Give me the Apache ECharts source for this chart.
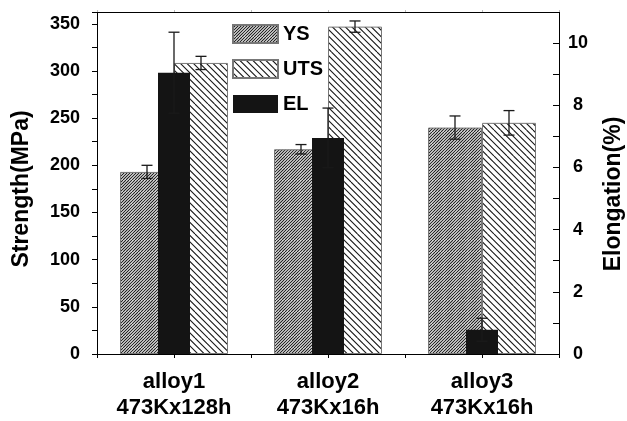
<!DOCTYPE html>
<html>
<head>
<meta charset="utf-8">
<script src="https://cdn.jsdelivr.net/npm/echarts@6/dist/echarts.min.js"></script>
<style>
html,body{margin:0;padding:0;background:#fff;}
#chart{width:627px;height:421px;}
</style>
</head>
<body>
<div id="chart"></div>
<script>
// ---- data ----
const alloys = ['alloy1', 'alloy2', 'alloy3'];
const treatments = ['473Kx128h', '473Kx16h', '473Kx16h'];
const ysValues = [193, 217, 240];
const ysErrors = [7, 5, 12.3];
const utsValues = [308.5, 347, 245];
const utsErrors = [7, 6, 13];
const elValues = [9.05, 6.95, 0.78];
const elErrors = [1.3, 0.96, 0.37];
const halfBands = ['', '', '', '', '', ''];

const FONT = "'Liberation Sans', Arial, Helvetica, sans-serif";
const BAR_W = 54;
const EL_W = 32;

function hatch(period, dir, lineColor, lw) {
  const s = period * 4;
  const c = document.createElement('canvas');
  c.width = s; c.height = s;
  const g = c.getContext('2d');
  g.fillStyle = '#fff';
  g.fillRect(0, 0, s, s);
  g.strokeStyle = lineColor;
  g.lineWidth = lw;
  g.beginPath();
  for (let k = -s; k <= 2 * s; k += period) {
    if (dir === '/') { g.moveTo(k, s); g.lineTo(k + s, 0); }
    else { g.moveTo(k, 0); g.lineTo(k + s, s); }
  }
  g.stroke();
  return { image: c, repeat: 'repeat' };
}
const ysPattern = hatch(3, '/', '#222', 1.2);
const utsPattern = hatch(6.5, '\\', '#1a1a1a', 1.1);

function errSeries(name, values, errors, xIdx, yIdx, offset, capHalf) {
  return {
    type: 'custom',
    name: name + '_err',
    xAxisIndex: xIdx,
    yAxisIndex: yIdx,
    z: 10,
    silent: true,
    legendHoverLink: false,
    encode: { x: 0, y: 1 },
    data: values.map((v, i) => [i, v, errors[i]]),
    renderItem: function (params, api) {
      const i = api.value(0), v = api.value(1), e = api.value(2);
      const hi = api.coord([i, v + e]);
      const lo = api.coord([i, v - e]);
      const x = hi[0] + offset;
      const st = { stroke: '#1a1a1a', lineWidth: 1.3 };
      return {
        type: 'group',
        children: [
          { type: 'line', shape: { x1: x, y1: hi[1], x2: x, y2: lo[1] }, style: st },
          { type: 'line', shape: { x1: x - capHalf, y1: hi[1], x2: x + capHalf, y2: hi[1] }, style: st },
          { type: 'line', shape: { x1: x - capHalf, y1: lo[1], x2: x + capHalf, y2: lo[1] }, style: st }
        ]
      };
    }
  };
}

const chart = echarts.init(document.getElementById('chart'), null, { renderer: 'canvas' });
const option = {
  animation: false,
  backgroundColor: '#fff',
  grid: { left: 97, right: 68, top: 12, bottom: 66 },
  legend: {
    orient: 'vertical',
    left: 232,
    top: 24,
    padding: 0,
    icon: 'rect',
    itemWidth: 45,
    itemHeight: 18,
    itemGap: 15,
    textStyle: { fontFamily: FONT, fontWeight: 'bold', fontSize: 20, color: '#000' },
    data: ['YS', 'UTS', 'EL'],
    selectedMode: false
  },
  xAxis: [
    {
      type: 'category',
      data: alloys,
      position: 'bottom',
      axisLine: { show: true, lineStyle: { color: '#000', width: 1 } },
      axisTick: { show: false },
      axisLabel: {
        interval: 0,
        margin: 15,
        fontFamily: FONT, fontWeight: 'bold', fontSize: 22, color: '#000', lineHeight: 26,
        formatter: (v, i) => v + '\n' + treatments[i]
      },
      splitLine: { show: false }
    },
    { type: 'category', data: alloys, show: false },
    {
      type: 'category', data: halfBands, position: 'bottom',
      axisLine: { show: false },
      axisTick: { show: true, length: 4, lineStyle: { color: '#000' } },
      axisLabel: { show: false }, splitLine: { show: false }
    },
    {
      type: 'category', data: halfBands, position: 'top',
      axisLine: { show: true, lineStyle: { color: '#000', width: 1 } },
      axisTick: { show: true, length: 2, lineStyle: { color: '#bbb' } },
      axisLabel: { show: false }, splitLine: { show: false }
    }
  ],
  yAxis: [
    {
      type: 'value', min: 0, max: 362.5, interval: 25, position: 'left',
      axisLine: { show: true, lineStyle: { color: '#000', width: 1 } },
      axisTick: { show: true, length: 5, lineStyle: { color: '#000' } },
      axisLabel: {
        margin: 17, fontFamily: FONT, fontWeight: 'bold', fontSize: 18, color: '#000',
        formatter: v => (v % 50 === 0 ? String(v) : '')
      },
      splitLine: { show: false }
    },
    {
      type: 'value', min: 0, max: 11, interval: 1, position: 'right',
      axisLine: { show: true, lineStyle: { color: '#000', width: 1 } },
      axisTick: { show: true, inside: true, length: 6, lineStyle: { color: '#000' } },
      axisLabel: {
        margin: 19, align: 'center', fontFamily: FONT, fontWeight: 'bold', fontSize: 18, color: '#000',
        formatter: v => (v % 2 === 0 ? String(v) : '')
      },
      splitLine: { show: false }
    }
  ],
  graphic: [
    {
      type: 'text', x: 22, y: 189, rotation: Math.PI / 2,
      style: { text: 'Strength(MPa)', font: 'bold 23px ' + FONT, fill: '#000', textAlign: 'center', textVerticalAlign: 'middle' }
    },
    {
      type: 'text', x: 614, y: 194, rotation: Math.PI / 2,
      style: { text: 'Elongation(%)', font: 'bold 23px ' + FONT, fill: '#000', textAlign: 'center', textVerticalAlign: 'middle' }
    }
  ],
  series: [
    {
      type: 'bar', name: 'YS', xAxisIndex: 0, yAxisIndex: 0,
      barWidth: BAR_W, barGap: '0%', z: 2,
      itemStyle: { color: ysPattern, borderColor: '#777', borderWidth: 1 },
      data: ysValues
    },
    {
      type: 'bar', name: 'UTS', xAxisIndex: 0, yAxisIndex: 0,
      barWidth: BAR_W, barGap: '0%', z: 2,
      itemStyle: { color: utsPattern, borderColor: '#777', borderWidth: 1 },
      data: utsValues
    },
    {
      type: 'bar', name: 'EL', xAxisIndex: 1, yAxisIndex: 1,
      barWidth: EL_W, z: 3,
      itemStyle: { color: '#141414' },
      data: elValues
    },
    errSeries('YS', ysValues, ysErrors, 0, 0, -BAR_W / 2, 5.5),
    errSeries('UTS', utsValues, utsErrors, 0, 0, BAR_W / 2, 5.5),
    errSeries('EL', elValues, elErrors, 1, 1, 0, 5.5)
  ]
};
chart.setOption(option);
</script>
</body>
</html>
